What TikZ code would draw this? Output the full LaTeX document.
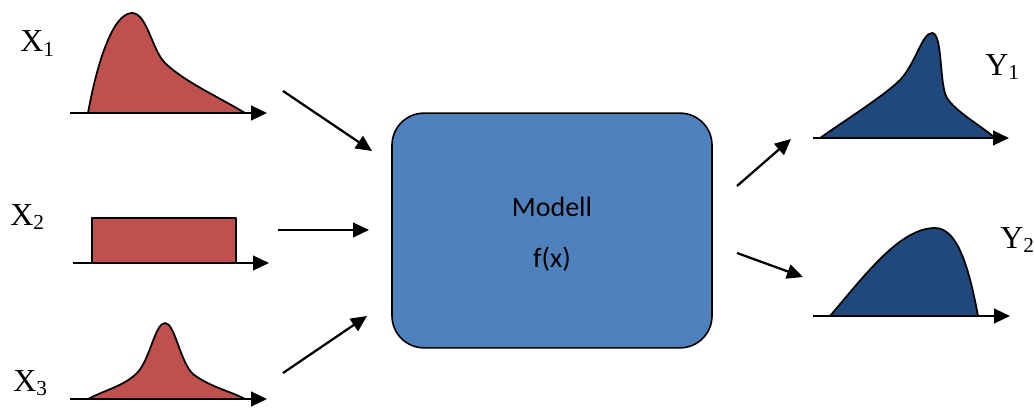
\documentclass[tikz,border=0pt]{standalone}
\usepackage{fontspec}
\setmainfont{Liberation Serif}
\newfontfamily\boxfont{Carlito}
\usetikzlibrary{arrows.meta}

\definecolor{inred}{HTML}{C0504D}
\definecolor{outblue}{HTML}{1F497D}
\definecolor{modelblue}{HTML}{4F81BD}

\tikzset{
  axis/.style={line width=1.7pt, -{Triangle[length=12pt,width=11pt]}},
  flow/.style={line width=1.7pt, -{Triangle[length=12pt,width=11pt]}},
  indist/.style={fill=inred, draw=black, line width=1.3pt, line join=round},
  outdist/.style={fill=outblue, draw=black, line width=1.3pt, line join=round},
  varlabel/.style={inner sep=0pt, anchor=base west, font=\fontsize{24}{28}\selectfont},
  modelbox/.style={draw=black, line width=1.2pt, fill=modelblue, rounded corners=24pt,
                   minimum width=240pt, minimum height=176pt, inner sep=0pt},
  modeltext/.style={inner sep=0pt, anchor=base, font=\boxfont\fontsize{21}{24}\selectfont}
}

\newcommand{\subidx}[1]{\raisebox{-3.5pt}{\fontsize{16}{16}\selectfont #1}}

\begin{document}
\begin{tikzpicture}[x=0.75pt, y=-0.75pt]
\useasboundingbox (0,0) rectangle (1034,410);

% model block
\node[modelbox] (model) at (552,230.5) {};
\node[modeltext] (mname) at (552,216) {Modell};
\node[modeltext] (mfunc) at (552,267) {f(x)};

% input distribution X1 (skewed)
\draw[indist] (88,113) .. controls (96,68) and (112,13) .. (132,13)
  .. controls (147,13) and (152,50) .. (165,63)
  .. controls (185,82) and (215,95) .. (245,113) -- cycle;
\coordinate (ax1s) at (70,113);
\coordinate (ax1e) at (267,113);
\draw[axis] (ax1s) -- (ax1e);
\node[varlabel] (lx1) at (20,52) {X\subidx{1}};

% input distribution X2 (uniform)
\draw[indist] (92,263) rectangle (236,218);
\coordinate (ax2s) at (73,263);
\coordinate (ax2e) at (269,263);
\draw[axis] (ax2s) -- (ax2e);
\node[varlabel] (lx2) at (10,225) {X\subidx{2}};

% input distribution X3 (peaked)
\draw[indist] (88,399) .. controls (105,390) and (124,386) .. (137,373)
  .. controls (150,360) and (155,323) .. (165,323)
  .. controls (175,323) and (180,362) .. (193,374)
  .. controls (210,387) and (230,391) .. (245,399) -- cycle;
\coordinate (ax3s) at (70,399);
\coordinate (ax3e) at (267,399);
\draw[axis] (ax3s) -- (ax3e);
\node[varlabel] (lx3) at (13,391) {X\subidx{3}};

% output distribution Y1
\draw[outdist] (820,138) .. controls (850,117) and (885,95) .. (900,80)
  .. controls (916,63) and (922,33) .. (932,33)
  .. controls (943,33) and (939,85) .. (947,98)
  .. controls (956,112) and (980,125) .. (995,138) -- cycle;
\coordinate (ay1s) at (813,138);
\coordinate (ay1e) at (1009,138);
\draw[axis] (ay1s) -- (ay1e);
\node[varlabel] (ly1) at (985,75) {Y\subidx{1}};

% output distribution Y2
\draw[outdist] (830,316) .. controls (865,275) and (900,228) .. (935,228)
  .. controls (956,228) and (968,262) .. (978,316) -- cycle;
\coordinate (ay2s) at (813,316);
\coordinate (ay2e) at (1010,316);
\draw[axis] (ay2s) -- (ay2e);
\node[varlabel] (ly2) at (1000,248) {Y\subidx{2}};

% connectors into and out of the model
\coordinate (in1) at (283,91);   \coordinate (in1t) at (372,151);
\coordinate (in2) at (278,230);  \coordinate (in2t) at (369,230);
\coordinate (in3) at (283,373);  \coordinate (in3t) at (367,316);
\coordinate (out1) at (737,186); \coordinate (out1t) at (791,139);
\coordinate (out2) at (737,253); \coordinate (out2t) at (803,277);
\draw[flow] (in1) -- (in1t);
\draw[flow] (in2) -- (in2t);
\draw[flow] (in3) -- (in3t);
\draw[flow] (out1) -- (out1t);
\draw[flow] (out2) -- (out2t);
\end{tikzpicture}
\end{document}
